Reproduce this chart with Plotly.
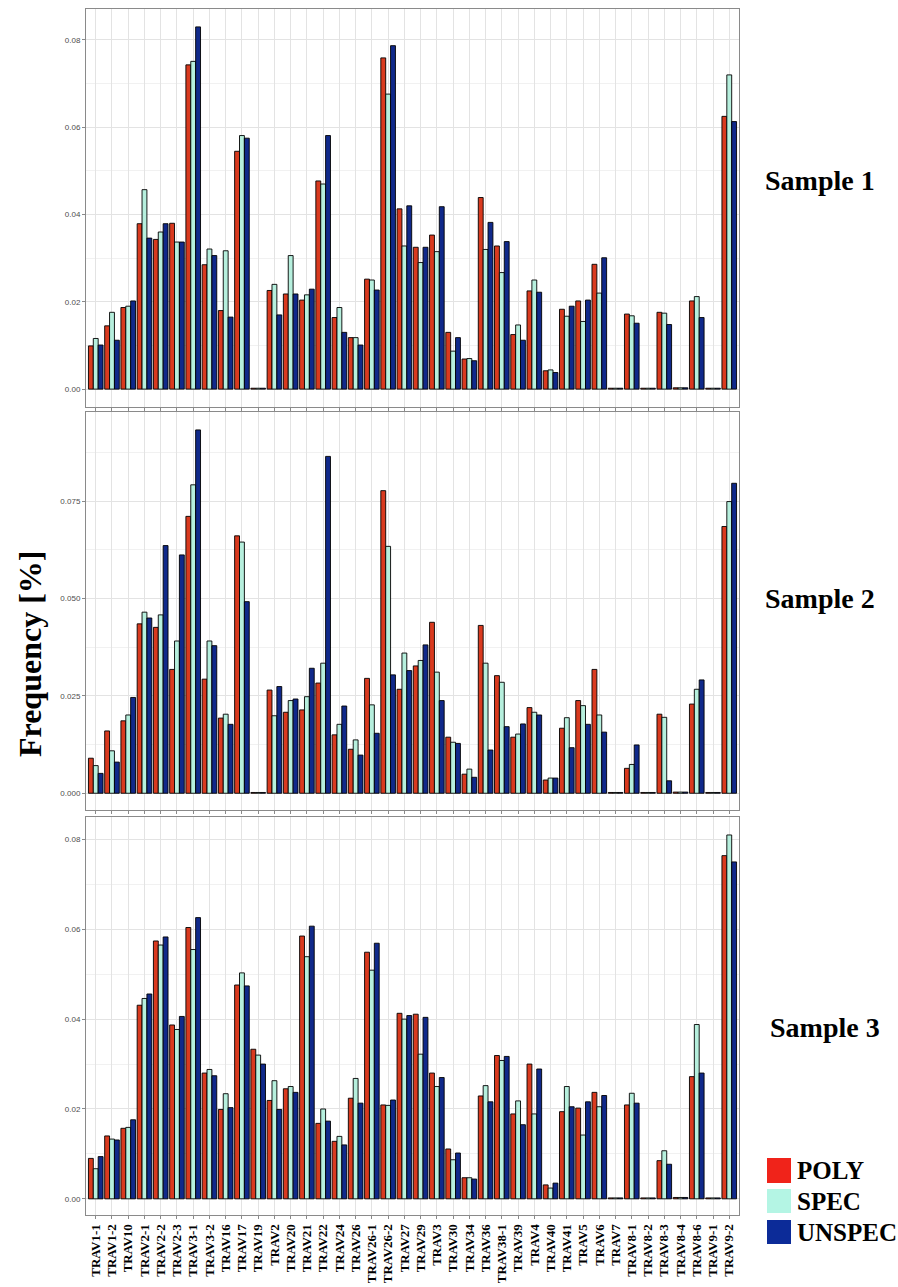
import plotly.graph_objects as go

# ---------------- data ----------------
categories = ["TRAV1-1", "TRAV1-2", "TRAV10", "TRAV2-1", "TRAV2-2", "TRAV2-3", "TRAV3-1", "TRAV3-2",
              "TRAV16", "TRAV17", "TRAV19", "TRAV2", "TRAV20", "TRAV21", "TRAV22", "TRAV24", "TRAV26",
              "TRAV26-1", "TRAV26-2", "TRAV27", "TRAV29", "TRAV3", "TRAV30", "TRAV34", "TRAV36", "TRAV38-1",
              "TRAV39", "TRAV4", "TRAV40", "TRAV41", "TRAV5", "TRAV6", "TRAV7", "TRAV8-1", "TRAV8-2",
              "TRAV8-3", "TRAV8-4", "TRAV8-6", "TRAV9-1", "TRAV9-2"]

poly_s1 = [0.0099, 0.0145, 0.0187, 0.0379, 0.0343, 0.0380, 0.0743, 0.0285, 0.0180, 0.0545,
           0.0002, 0.0226, 0.0218, 0.0204, 0.0477, 0.0164, 0.0118, 0.0252, 0.0759, 0.0413,
           0.0325, 0.0353, 0.0130, 0.0069, 0.0439, 0.0328, 0.0125, 0.0225, 0.0042, 0.0183,
           0.0202, 0.0286, 0.0002, 0.0172, 0.0002, 0.0176, 0.0003, 0.0202, 0.0002, 0.0625]
spec_s1 = [0.0116, 0.0176, 0.0190, 0.0457, 0.0360, 0.0337, 0.0751, 0.0321, 0.0317, 0.0581,
           0.0002, 0.0240, 0.0306, 0.0216, 0.0470, 0.0187, 0.0118, 0.0250, 0.0676, 0.0328,
           0.0290, 0.0315, 0.0087, 0.0070, 0.0320, 0.0267, 0.0147, 0.0250, 0.0044, 0.0167,
           0.0155, 0.0220, 0.0002, 0.0168, 0.0002, 0.0174, 0.0003, 0.0212, 0.0002, 0.0720]
unspec_s1 = [0.0101, 0.0112, 0.0202, 0.0346, 0.0379, 0.0337, 0.0830, 0.0306, 0.0165, 0.0575,
             0.0002, 0.0170, 0.0218, 0.0229, 0.0581, 0.0130, 0.0101, 0.0227, 0.0787, 0.0420,
             0.0325, 0.0418, 0.0118, 0.0065, 0.0382, 0.0338, 0.0112, 0.0222, 0.0038, 0.0190,
             0.0204, 0.0301, 0.0002, 0.0151, 0.0002, 0.0148, 0.0003, 0.0164, 0.0002, 0.0613]

poly_s2 = [0.0090, 0.0160, 0.0186, 0.0435, 0.0426, 0.0318, 0.0711, 0.0293, 0.0193, 0.0661,
           0.0002, 0.0265, 0.0208, 0.0214, 0.0283, 0.0150, 0.0113, 0.0295, 0.0777, 0.0267,
           0.0327, 0.0439, 0.0144, 0.0049, 0.0431, 0.0302, 0.0144, 0.0220, 0.0034, 0.0167,
           0.0238, 0.0318, 0.0002, 0.0064, 0.0002, 0.0203, 0.0003, 0.0229, 0.0002, 0.0685]
spec_s2 = [0.0071, 0.0109, 0.0201, 0.0465, 0.0458, 0.0391, 0.0792, 0.0391, 0.0203, 0.0645,
           0.0002, 0.0199, 0.0238, 0.0248, 0.0334, 0.0177, 0.0137, 0.0227, 0.0634, 0.0360,
           0.0341, 0.0311, 0.0131, 0.0062, 0.0334, 0.0285, 0.0152, 0.0208, 0.0039, 0.0194,
           0.0225, 0.0201, 0.0002, 0.0074, 0.0002, 0.0195, 0.0003, 0.0267, 0.0002, 0.0749]
unspec_s2 = [0.0051, 0.0080, 0.0246, 0.0450, 0.0636, 0.0612, 0.0933, 0.0379, 0.0177, 0.0492,
             0.0002, 0.0274, 0.0242, 0.0321, 0.0865, 0.0224, 0.0098, 0.0154, 0.0304, 0.0315,
             0.0381, 0.0238, 0.0128, 0.0041, 0.0111, 0.0171, 0.0178, 0.0201, 0.0039, 0.0117,
             0.0177, 0.0157, 0.0002, 0.0124, 0.0002, 0.0032, 0.0003, 0.0291, 0.0002, 0.0796]

poly_s3 = [0.0090, 0.0140, 0.0157, 0.0431, 0.0574, 0.0387, 0.0604, 0.0280, 0.0199, 0.0476,
           0.0333, 0.0219, 0.0245, 0.0585, 0.0168, 0.0128, 0.0224, 0.0549, 0.0209, 0.0413,
           0.0411, 0.0280, 0.0111, 0.0047, 0.0229, 0.0319, 0.0189, 0.0300, 0.0031, 0.0194,
           0.0202, 0.0237, 0.0002, 0.0209, 0.0002, 0.0085, 0.0003, 0.0272, 0.0002, 0.0764]
spec_s3 = [0.0067, 0.0133, 0.0159, 0.0446, 0.0565, 0.0377, 0.0555, 0.0288, 0.0234, 0.0503,
           0.0320, 0.0263, 0.0250, 0.0539, 0.0200, 0.0139, 0.0268, 0.0509, 0.0208, 0.0400,
           0.0322, 0.0250, 0.0087, 0.0047, 0.0252, 0.0308, 0.0218, 0.0189, 0.0024, 0.0250,
           0.0142, 0.0205, 0.0002, 0.0235, 0.0002, 0.0107, 0.0003, 0.0388, 0.0002, 0.0810]
unspec_s3 = [0.0094, 0.0131, 0.0176, 0.0456, 0.0583, 0.0406, 0.0626, 0.0274, 0.0203, 0.0474,
             0.0300, 0.0199, 0.0237, 0.0607, 0.0173, 0.0120, 0.0213, 0.0569, 0.0220, 0.0408,
             0.0404, 0.0270, 0.0102, 0.0044, 0.0216, 0.0317, 0.0165, 0.0289, 0.0035, 0.0205,
             0.0216, 0.0230, 0.0002, 0.0213, 0.0002, 0.0077, 0.0003, 0.0280, 0.0002, 0.0750]

series_names = ["POLY", "SPEC", "UNSPEC"]
panel_titles = ["Sample 1", "Sample 2", "Sample 3"]
y_tickvals = [[0.00, 0.02, 0.04, 0.06, 0.08],
              [0.000, 0.025, 0.050, 0.075],
              [0.00, 0.02, 0.04, 0.06, 0.08]]

# ---------------- styling ----------------
bar_colors = ["#d93a1f", "#b6efdd", "#10298a"]
legend_colors = ["#f0231a", "#b4f5e4", "#0c2b98"]
W, H = 898, 1287
x_dom = [86 / W, 739 / W]
panels_px = [(9, 407), (412, 810), (817, 1215)]
y_ranges = [[-0.0041, 0.0871], [-0.0043, 0.0979], [-0.0036, 0.0850]]
y_fmt = [".2f", ".3f", ".2f"]
y_minor = [0.01, 0.0125, 0.01]

panels = [[poly_s1, spec_s1, unspec_s1],
          [poly_s2, spec_s2, unspec_s2],
          [poly_s3, spec_s3, unspec_s3]]

fig = go.Figure()
for p, data in enumerate(panels):
    ax = "" if p == 0 else str(p + 1)
    for s, vals in enumerate(data):
        fig.add_trace(go.Bar(
            x=categories, y=vals, name=series_names[s],
            marker=dict(color=bar_colors[s], line=dict(color="black", width=0.9)),
            xaxis="x" + ax, yaxis="y" + ax, showlegend=False,
        ))

layout = dict(
    width=W, height=H, margin=dict(l=0, r=0, t=0, b=0),
    plot_bgcolor="white", paper_bgcolor="white",
    barmode="group", bargap=0.1, bargroupgap=0.0, showlegend=False,
)
for p in range(3):
    ax = "" if p == 0 else str(p + 1)
    top, bot = panels_px[p]
    layout["xaxis" + ax] = dict(
        domain=x_dom, anchor="y" + ax, type="category",
        range=[-0.6, len(categories) - 0.4],
        tickmode="array", tickvals=categories, ticktext=categories,
        showticklabels=(p == 2), tickangle=-90,
        tickfont=dict(family="Liberation Serif", size=13, color="black", weight="bold"),
        ticks="outside", ticklen=3, tickcolor="#8a8a8a", tickwidth=1,
        showgrid=True, gridcolor="#e3e3e3", gridwidth=1,
        showline=True, mirror=True, linecolor="#8a8a8a", linewidth=1,
        zeroline=False, fixedrange=True,
    )
    layout["yaxis" + ax] = dict(
        domain=[1 - bot / H, 1 - top / H], anchor="x" + ax,
        range=y_ranges[p], tickmode="array", tickvals=y_tickvals[p],
        tickformat=y_fmt[p],
        tickfont=dict(family="Liberation Sans", size=8, color="#4d4d4d"),
        ticks="outside", ticklen=3, tickcolor="#8a8a8a", tickwidth=1,
        showgrid=True, gridcolor="#e3e3e3", gridwidth=1,
        minor=dict(dtick=y_minor[p], tick0=0, showgrid=True, gridcolor="#f1f1f1", gridwidth=0.6),
        showline=True, mirror=True, linecolor="#8a8a8a", linewidth=1,
        zeroline=False, fixedrange=True,
    )

annotations = []
sample_pos = [(820, 181), (820, 598), (825, 1027)]
for p in range(3):
    sx, sy = sample_pos[p]
    annotations.append(dict(
        text=panel_titles[p], x=sx / W, y=1 - sy / H, xref="paper", yref="paper",
        showarrow=False, xanchor="center", yanchor="middle",
        font=dict(family="Liberation Serif", size=28, color="black", weight="bold"),
    ))
annotations.append(dict(
    text="Frequency [%]", x=30 / W, y=1 - 654 / H, xref="paper", yref="paper",
    showarrow=False, textangle=-90, xanchor="center", yanchor="middle",
    font=dict(family="Liberation Serif", size=32, color="black", weight="bold"),
))

shapes = []
legend_y = [(1158, 1183), (1189, 1213), (1220, 1244)]
for i, name in enumerate(series_names):
    y0, y1 = legend_y[i]
    shapes.append(dict(type="rect", xref="paper", yref="paper",
                       x0=767 / W, x1=791 / W, y0=1 - y1 / H, y1=1 - y0 / H,
                       fillcolor=legend_colors[i], line=dict(width=0)))
    annotations.append(dict(
        text=name, x=795 / W, y=1 - ((y0 + y1) / 2) / H, xref="paper", yref="paper",
        showarrow=False, xanchor="left", yanchor="middle",
        font=dict(family="Liberation Serif", size=25, color="black", weight="bold"),
    ))

layout["annotations"] = annotations
layout["shapes"] = shapes
fig.update_layout(**layout)
fig.write_html("out.html")
